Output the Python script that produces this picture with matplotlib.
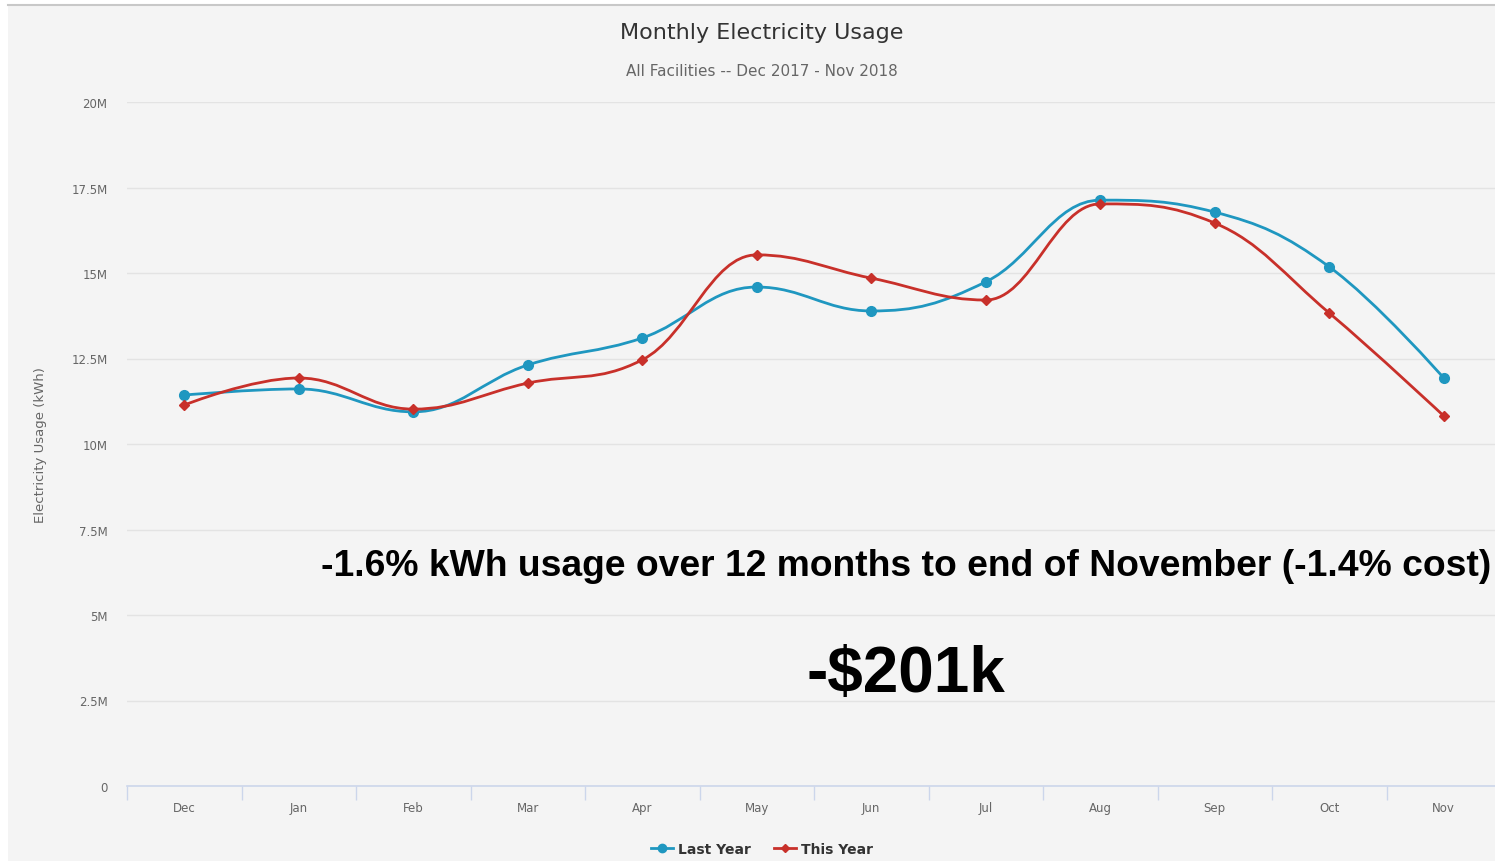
import numpy as np
import matplotlib
matplotlib.use("Agg")
import matplotlib.pyplot as plt
from matplotlib.path import Path
from matplotlib.patches import PathPatch, Rectangle
from matplotlib.lines import Line2D

# ── data ──
months = ["Dec", "Jan", "Feb", "Mar", "Apr", "May", "Jun", "Jul", "Aug", "Sep", "Oct", "Nov"]
last_year = [11.43, 11.61, 10.94, 12.31, 13.10, 14.59, 13.89, 14.74, 17.13, 16.78, 15.18, 11.93]
this_year = [11.14, 11.93, 11.02, 11.78, 12.46, 15.53, 14.85, 14.21, 17.02, 16.46, 13.83, 10.82]
y_ticks = [0, 2.5, 5, 7.5, 10, 12.5, 15, 17.5, 20]
y_tick_labels = ["0", "2.5M", "5M", "7.5M", "10M", "12.5M", "15M", "17.5M", "20M"]

BLUE = "#1f97c0"
RED = "#c8302a"
GREY_TXT = "#666666"
BG = "#f4f4f4"


def spline_path(xs, ys, smoothing=1.5):
    # highcharts-style spline: bezier control points per point
    n = len(xs)
    denom = smoothing + 1
    lc = [(xs[i], ys[i]) for i in range(n)]
    rc = [(xs[i], ys[i]) for i in range(n)]
    for i in range(1, n - 1):
        px, py = xs[i], ys[i]
        lx, ly = xs[i - 1], ys[i - 1]
        nx, ny = xs[i + 1], ys[i + 1]
        lcx = (smoothing * px + lx) / denom
        lcy = (smoothing * py + ly) / denom
        rcx = (smoothing * px + nx) / denom
        rcy = (smoothing * py + ny) / denom
        if rcx != lcx:
            corr = ((rcy - lcy) * (rcx - px)) / (rcx - lcx) + py - rcy
            lcy += corr
            rcy += corr
        if lcy > ly and lcy > py:
            lcy = max(ly, py)
            rcy = 2 * py - lcy
        elif lcy < ly and lcy < py:
            lcy = min(ly, py)
            rcy = 2 * py - lcy
        if rcy > ny and rcy > py:
            rcy = max(ny, py)
            lcy = 2 * py - rcy
        elif rcy < ny and rcy < py:
            rcy = min(ny, py)
            lcy = 2 * py - rcy
        lc[i] = (lcx, lcy)
        rc[i] = (rcx, rcy)
    verts = [(xs[0], ys[0])]
    codes = [Path.MOVETO]
    for i in range(1, n):
        verts += [rc[i - 1], lc[i], (xs[i], ys[i])]
        codes += [Path.CURVE4] * 3
    return Path(verts, codes)


fig = plt.figure(figsize=(14.95, 8.62), dpi=100, facecolor="white")
fig.patches.append(Rectangle((8 / 1495, 0), 1, 1 - 7 / 862, transform=fig.transFigure,
                             facecolor=BG, edgecolor="none", zorder=-2))
fig.lines.append(Line2D([8 / 1495, 1], [1 - 6 / 862, 1 - 6 / 862], transform=fig.transFigure,
                        color="#c8c8c8", lw=1.5, zorder=-1))

ax = fig.add_axes([127 / 1495, 1 - 787 / 862, 1374 / 1495, 684 / 862])
ax.set_facecolor(BG)

x = np.arange(len(months))
ax.add_patch(PathPatch(spline_path(x, last_year), facecolor="none", edgecolor=BLUE, lw=2, zorder=3))
ax.add_patch(PathPatch(spline_path(x, this_year), facecolor="none", edgecolor=RED, lw=2, zorder=4))
ax.plot(x, last_year, "o", color=BLUE, ms=7, zorder=5)
ax.plot(x, this_year, "D", color=RED, ms=5, zorder=6)

ax.set_xlim(-0.5, len(months) - 0.5)
ax.set_ylim(0, 20)
ax.set_yticks(y_ticks)
ax.set_yticklabels(y_tick_labels, fontsize=8.5, color=GREY_TXT)
ax.set_xticks(x)
ax.set_xticklabels(months, fontsize=8.5, color=GREY_TXT)
ax.set_xticks(np.arange(-0.5, len(months)), minor=True)
ax.tick_params(axis="x", which="major", length=0, pad=11)
ax.tick_params(axis="x", which="minor", length=10, color="#ccd6eb", width=1)
ax.tick_params(axis="y", length=0, pad=14)
ax.grid(axis="y", color="#e3e3e3", lw=1)
for side in ["top", "right", "left"]:
    ax.spines[side].set_visible(False)
ax.spines["bottom"].set_color("#ccd6eb")
ax.spines["bottom"].set_linewidth(1.2)
ax.set_ylabel("Electricity Usage (kWh)", fontsize=9.5, color=GREY_TXT)
ax.yaxis.set_label_coords(-0.058, 0.5)

fig.text(762 / 1495, 1 - 33 / 862, "Monthly Electricity Usage", ha="center", va="center",
         fontsize=16, color="#333333")
fig.text(762 / 1495, 1 - 72 / 862, "All Facilities -- Dec 2017 - Nov 2018", ha="center", va="center",
         fontsize=11, color=GREY_TXT)

fig.text(906 / 1495, 1 - 567 / 862, "-1.6% kWh usage over 12 months to end of November (-1.4% cost)",
         ha="center", va="center", fontsize=26.8, fontweight="bold", family="Liberation Sans", color="black")
fig.text(906 / 1495, 1 - 675 / 862, "-$201k", ha="center", va="center", fontsize=46,
         fontweight="bold", family="Liberation Sans", color="black")

handles = [Line2D([], [], color=BLUE, marker="o", ms=6, lw=2),
           Line2D([], [], color=RED, marker="D", ms=4.5, lw=2)]
leg = fig.legend(handles, ["Last Year", "This Year"], loc="center", bbox_to_anchor=(762 / 1495, 1 - 850 / 862),
                 ncol=2, frameon=False, handlelength=1.6, handletextpad=0.4, columnspacing=1.6,
                 prop={"weight": "bold", "size": 10})
for t in leg.get_texts():
    t.set_color("#333333")

fig.savefig("out.png", dpi=100, facecolor=fig.get_facecolor())
